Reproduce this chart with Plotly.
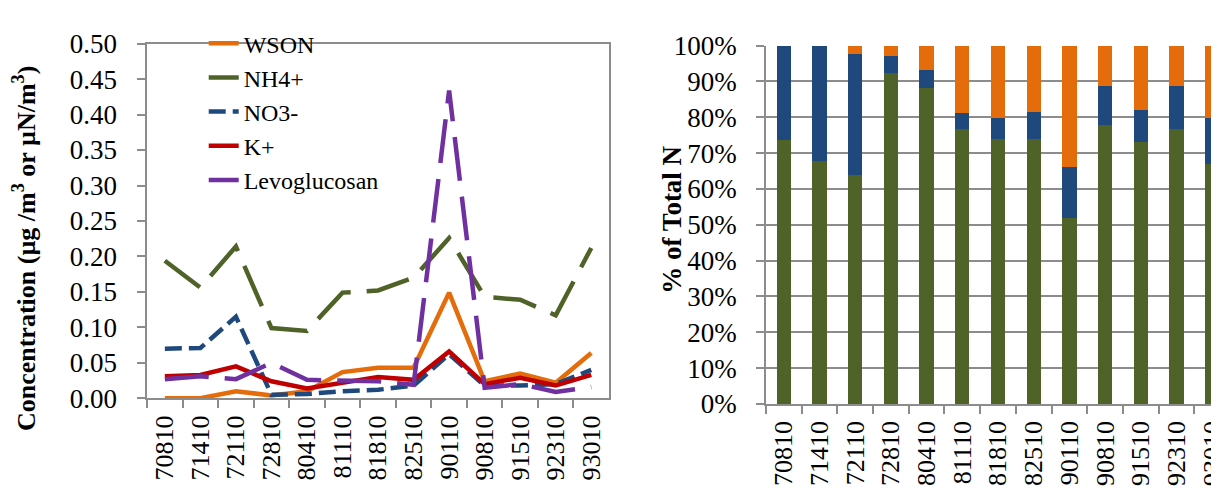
import plotly.graph_objects as go

dates = ["70810", "71410", "72110", "72810", "80410", "81110", "81810",
         "82510", "90110", "90810", "91510", "92310", "93010"]

wson = [0.000, 0.000, 0.010, 0.004, 0.010, 0.037, 0.043, 0.043, 0.149, 0.024, 0.035, 0.022, 0.064]
nh4 = [0.194, 0.156, 0.214, 0.099, 0.095, 0.149, 0.152, 0.170, 0.226, 0.143, 0.139, 0.117, 0.212]
no3 = [0.070, 0.071, 0.115, 0.005, 0.006, 0.010, 0.012, 0.018, 0.062, 0.018, 0.018, 0.020, 0.040]
kplus = [0.031, 0.033, 0.045, 0.024, 0.014, 0.022, 0.030, 0.026, 0.066, 0.020, 0.029, 0.018, 0.033]
levo = [0.027, 0.031, 0.027, 0.050, 0.026, 0.025, 0.024, 0.019, 0.434, 0.015, 0.020, 0.009, 0.016]

# percent of total N (right panel)
pct_nh4 = [73.6, 67.9, 64.0, 92.3, 88.2, 76.8, 74.0, 73.8, 52.0, 77.7, 73.1, 76.8, 67.0]
pct_no3 = [26.4, 32.1, 33.5, 4.9, 5.0, 4.4, 5.7, 7.6, 14.1, 11.1, 8.9, 11.8, 12.7]
pct_wson = [0.0, 0.0, 2.5, 2.8, 6.8, 18.8, 20.3, 18.6, 33.9, 11.2, 18.0, 11.4, 20.3]

ORANGE = "#E46C0A"
GREEN = "#4F6228"
BLUE = "#1F497D"
RED = "#C00000"
PURPLE = "#7030A0"
AXIS = "#8C8C8C"
FONT = "Times New Roman, Liberation Serif, serif"

fig = go.Figure()

line_series = [
    ("WSON", wson, ORANGE, "solid"),
    ("NH4+", nh4, GREEN, "44px,16px"),
    ("NO3-", no3, BLUE, "17px,7px"),
    ("K+", kplus, RED, "solid"),
    ("Levoglucosan", levo, PURPLE, "44px,16px"),
]
for name, vals, col, dash in line_series:
    fig.add_trace(go.Scatter(x=dates, y=vals, name=name, mode="lines",
                             line=dict(color=col, width=4.5, dash=dash),
                             xaxis="x", yaxis="y"))

for name, vals, col in [("NH4+", pct_nh4, GREEN), ("NO3-", pct_no3, BLUE), ("WSON", pct_wson, ORANGE)]:
    fig.add_trace(go.Bar(x=dates, y=vals, name=name, marker=dict(color=col, line=dict(width=0)),
                         showlegend=False, xaxis="x2", yaxis="y2"))

W, H = 1219, 486
xtickfont = dict(family=FONT, size=26, color="black")
ytickfont = dict(family=FONT, size=27, color="black")

fig.update_layout(
    width=W, height=H,
    margin=dict(l=0, r=0, t=0, b=0),
    paper_bgcolor="white", plot_bgcolor="white",
    barmode="stack", bargap=0.6,
    font=dict(family=FONT, size=26, color="black"),
    showlegend=True,
    legend=dict(x=197 / W, y=1 + 2 / H, xanchor="left", yanchor="top",
                bgcolor="rgba(0,0,0,0)", font=dict(family=FONT, size=24, color="black"),
                tracegroupgap=0, itemwidth=30, traceorder="normal"),
    xaxis=dict(domain=[140 / W, 605 / W], type="category", tickson="boundaries",
               ticks="outside", ticklen=8, tickcolor=AXIS, tickwidth=1.5,
               showline=True, linecolor=AXIS, linewidth=1.5, mirror=True,
               ticklabelstandoff=5,
               tickangle=-90, tickfont=xtickfont, showgrid=False, anchor="y",
               range=[-0.5, 12.5]),
    yaxis=dict(domain=[1 - 400 / H, 1 - 22 / H], range=[0, 0.5], dtick=0.05, tickformat=".2f",
               ticks="outside", ticklen=8, tickcolor=AXIS, tickwidth=1.5,
               showline=True, linecolor=AXIS, linewidth=1.5, mirror=True,
               ticklabelstandoff=15,
               showgrid=False, zeroline=False, tickfont=ytickfont, anchor="x"),
    xaxis2=dict(domain=[763 / W, 1.0], type="category", tickson="boundaries",
                ticks="outside", ticklen=8, tickcolor=AXIS, tickwidth=1.5,
                showline=True, linecolor=AXIS, linewidth=1.5,
                ticklabelstandoff=5,
                tickangle=-90, tickfont=xtickfont, showgrid=False, anchor="y2",
                range=[-0.5, 12.19]),
    yaxis2=dict(domain=[1 - 406 / H, 1 - 24 / H], range=[0, 100], dtick=10, ticksuffix="%",
                ticks="outside", ticklen=8, tickcolor=AXIS, tickwidth=1.5,
                showline=True, linecolor=AXIS, linewidth=1.5,
                ticklabelstandoff=14,
                showgrid=True, gridcolor=AXIS, gridwidth=1.5, zeroline=False,
                tickfont=ytickfont, anchor="x2"),
    annotations=[
        dict(text="<b>Concentration (µg /m<sup>3</sup> or µN/m<sup>3</sup>)</b>",
             x=16 / W, y=1 - 240 / H, xref="paper", yref="paper", textangle=-90,
             xanchor="center", yanchor="middle", showarrow=False,
             font=dict(family=FONT, size=26, color="black")),
        dict(text="<b>% of Total N</b>",
             x=668 / W, y=1 - 210 / H, xref="paper", yref="paper", textangle=-90,
             xanchor="center", yanchor="middle", showarrow=False,
             font=dict(family=FONT, size=27, color="black")),
    ],
)

fig.write_html("out.html")
